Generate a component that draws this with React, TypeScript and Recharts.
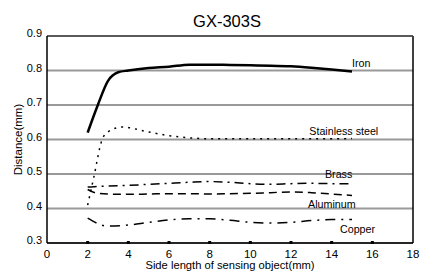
import React from 'react';
import { LineChart, Line, XAxis, YAxis, CartesianGrid, ReferenceLine, ReferenceDot } from 'recharts';

const xTicks = [0, 2, 4, 6, 8, 10, 12, 14, 16, 18];
const yTicks = [0.3, 0.4, 0.5, 0.6, 0.7, 0.8, 0.9];

const ironX = [2, 2.5, 3, 3.5, 4, 5, 6, 7, 8, 9, 10, 11, 12, 13, 14, 15];
const ironY = [0.62, 0.7, 0.77, 0.795, 0.8, 0.807, 0.811, 0.817, 0.817, 0.816, 0.815, 0.814, 0.812, 0.808, 0.803, 0.797];

const steelX = [2, 2.3, 2.7, 3, 3.7, 4.9, 5.9, 7.2, 8, 9, 10, 11, 12, 13, 14, 15];
const steelY = [0.41, 0.49, 0.598, 0.622, 0.636, 0.623, 0.612, 0.604, 0.602, 0.602, 0.602, 0.602, 0.602, 0.602, 0.602, 0.603];

const brassX = [2, 3, 4, 5, 6, 7, 8, 9, 10, 11, 12, 13, 14, 15];
const brassY = [0.462, 0.465, 0.467, 0.47, 0.473, 0.476, 0.478, 0.476, 0.472, 0.47, 0.472, 0.473, 0.472, 0.472];

const aluX = [2, 2.4, 3, 4, 5, 6, 7, 8, 9, 10, 11, 12, 13, 14, 15];
const aluY = [0.455, 0.445, 0.442, 0.441, 0.442, 0.443, 0.443, 0.442, 0.443, 0.444, 0.446, 0.448, 0.446, 0.442, 0.438];

const copperX = [2, 3, 4, 5, 6, 7, 8, 9, 10, 11, 12, 13, 14, 15];
const copperY = [0.372, 0.349, 0.352, 0.36, 0.367, 0.37, 0.37, 0.366, 0.36, 0.358, 0.36, 0.365, 0.368, 0.368];

const seriesLabels = ['Iron', 'Stainless steel', 'Brass', 'Aluminum', 'Copper'];
const labelX = [15.0, 12.9, 13.67, 12.84, 14.41];
const labelY = [0.822, 0.626, 0.5, 0.413, 0.341];

const toData = (xs: number[], ys: number[]) => xs.map((x, i) => ({ x, y: ys[i] }));

const FONT = '"Liberation Sans", Arial, sans-serif';

const XTick = (props: any) => {
  const { x, y, payload } = props;
  const v = payload.value;
  return (
    <g>
      {v > 0 && v < 18 ? <rect x={x - 1.5} y={y - 10} width={3} height={3} fill="#000" /> : null}
      <text x={x} y={y + 7} textAnchor="middle" fontSize={11.5} fontFamily={FONT} fill="#000">{v}</text>
    </g>
  );
};

const YTick = (props: any) => {
  const { x, y, payload } = props;
  return (
    <text x={x + 3} y={y + 1} textAnchor="end" fontSize={11} fontFamily={FONT} fill="#000">{payload.value.toFixed(1)}</text>
  );
};

const makeLabel = (text: string) => (props: any) => (
  <text x={props.cx} y={props.cy + 4} textAnchor="start" fontSize={10.7} fontFamily={FONT} fill="#000">{text}</text>
);

export default function App() {
  return (
    <div style={{ position: 'absolute', left: 0, top: 0, width: 424, height: 277, background: '#fff' }}>
      <div style={{ position: 'absolute', left: 0, top: 12, width: 454, textAlign: 'center', fontFamily: FONT, fontSize: 16.5, lineHeight: '19px' }}>GX-303S</div>
      <LineChart width={424} height={277} margin={{ top: 36, right: 11, bottom: 0, left: 0 }}>
        <CartesianGrid vertical={false} stroke="#999" strokeWidth={2} />
        <XAxis
          dataKey="x"
          type="number"
          domain={[0, 18]}
          ticks={xTicks}
          allowDuplicatedCategory={false}
          height={34}
          tick={<XTick />}
          tickLine={false}
          axisLine={{ stroke: '#000', strokeWidth: 1.5 }}
          label={{ value: 'Side length of sensing object(mm)', position: 'insideBottom', offset: 8, fontSize: 11.2, fontFamily: FONT, fill: '#000' }}
        />
        <YAxis
          type="number"
          domain={[0.3, 0.9]}
          ticks={yTicks}
          width={47}
          tick={<YTick />}
          tickLine={false}
          axisLine={{ stroke: '#000', strokeWidth: 1.5 }}
          label={{ value: 'Distance(mm)', angle: -90, position: 'insideLeft', offset: 18, fontSize: 11.5, fontFamily: FONT, fill: '#000', style: { textAnchor: 'middle' } }}
        />
        <ReferenceLine x={18} stroke="#000" strokeWidth={1.5} />
        <ReferenceLine y={0.9} stroke="#444" strokeWidth={1.5} />
        <Line data={toData(ironX, ironY)} dataKey="y" type="monotone" stroke="#000" strokeWidth={2.5} dot={false} isAnimationActive={false} />
        <Line data={toData(steelX, steelY)} dataKey="y" type="monotone" stroke="#000" strokeWidth={1.5} strokeDasharray="2 5" dot={false} isAnimationActive={false} />
        <Line data={toData(brassX, brassY)} dataKey="y" type="monotone" stroke="#000" strokeWidth={1.5} strokeDasharray="9 5 2 5" dot={false} isAnimationActive={false} />
        <Line data={toData(aluX, aluY)} dataKey="y" type="monotone" stroke="#000" strokeWidth={1.5} strokeDasharray="8 5" dot={false} isAnimationActive={false} />
        <Line data={toData(copperX, copperY)} dataKey="y" type="monotone" stroke="#000" strokeWidth={1.5} strokeDasharray="10 6 2 6" dot={false} isAnimationActive={false} />
        {seriesLabels.map((t, i) => (
          <ReferenceDot key={t} x={labelX[i]} y={labelY[i]} r={0} shape={makeLabel(t)} />
        ))}
      </LineChart>
    </div>
  );
}
